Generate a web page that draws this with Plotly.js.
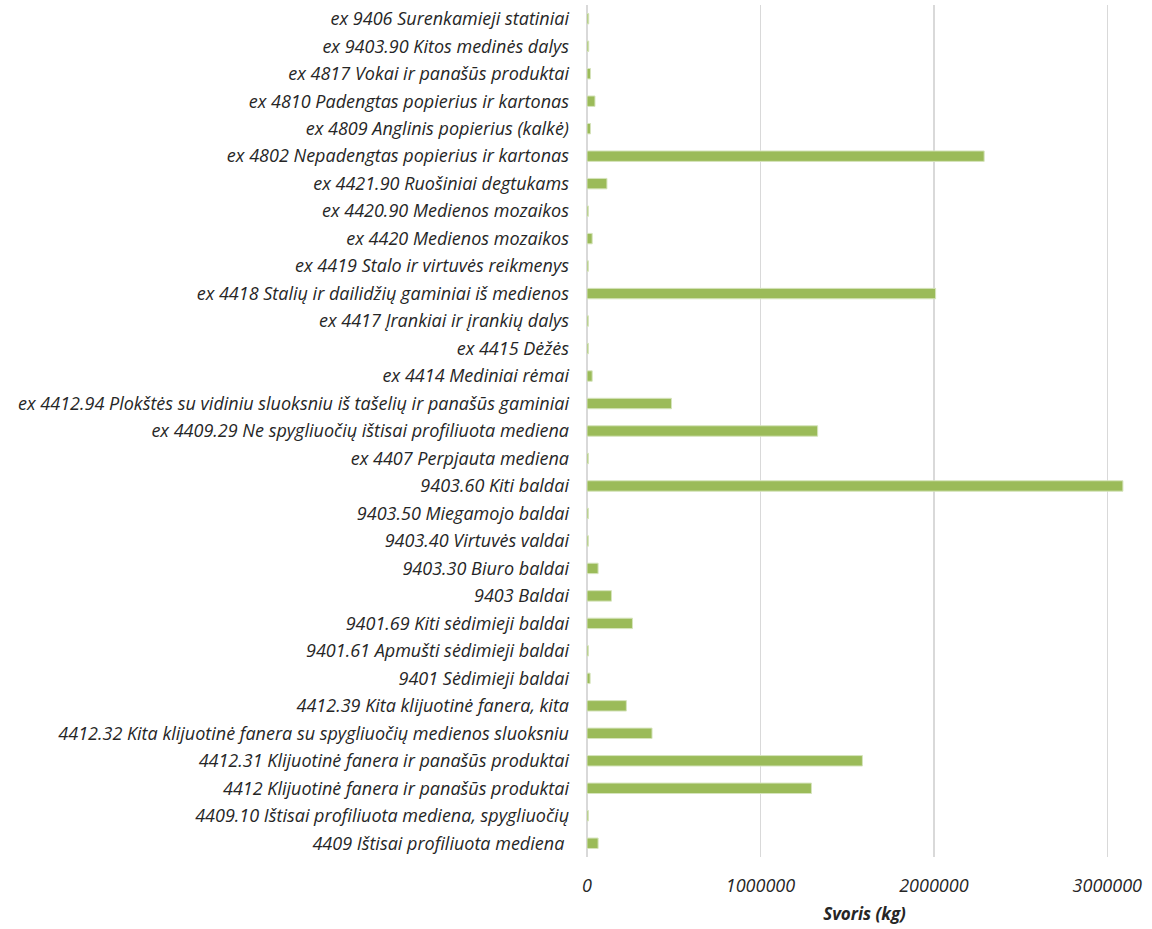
<!DOCTYPE html>
<html>
<head>
<meta charset="utf-8">
<script src="https://cdn.plot.ly/plotly-3.0.1.min.js"></script>
<style>html,body{margin:0;padding:0;background:#fff;}#chart{width:1152px;height:929px;}</style>
</head>
<body>
<div id="chart"></div>
<script>
// Categories, top to bottom as shown
var categories = [
  "ex 9406 Surenkamieji statiniai",
  "ex 9403.90 Kitos medinės dalys",
  "ex 4817 Vokai ir panašūs produktai",
  "ex 4810 Padengtas popierius ir kartonas",
  "ex 4809 Anglinis popierius (kalkė)",
  "ex 4802 Nepadengtas popierius ir kartonas",
  "ex 4421.90 Ruošiniai degtukams",
  "ex 4420.90 Medienos mozaikos",
  "ex 4420 Medienos mozaikos",
  "ex 4419 Stalo ir virtuvės reikmenys",
  "ex 4418 Stalių ir dailidžių gaminiai iš medienos",
  "ex 4417 Įrankiai ir įrankių dalys",
  "ex 4415 Dėžės",
  "ex 4414 Mediniai rėmai",
  "ex 4412.94 Plokštės su vidiniu sluoksniu iš tašelių ir panašūs gaminiai",
  "ex 4409.29 Ne spygliuočių ištisai profiliuota mediena",
  "ex 4407 Perpjauta mediena",
  "9403.60 Kiti baldai",
  "9403.50 Miegamojo baldai",
  "9403.40 Virtuvės valdai",
  "9403.30 Biuro baldai",
  "9403 Baldai",
  "9401.69 Kiti sėdimieji baldai",
  "9401.61 Apmušti sėdimieji baldai",
  "9401 Sėdimieji baldai",
  "4412.39 Kita klijuotinė fanera, kita",
  "4412.32 Kita klijuotinė fanera su spygliuočių medienos sluoksniu",
  "4412.31 Klijuotinė fanera ir panašūs produktai",
  "4412 Klijuotinė fanera ir panašūs produktai",
  "4409.10 Ištisai profiliuota mediena, spygliuočių",
  "4409 Ištisai profiliuota mediena\u00a0"
];
// Weight in kg
var weights = [
  10000, 10000, 20000, 46000, 20000, 2290000, 115000, 8000, 30000, 8000,
  2010000, 8000, 8000, 30000, 487000, 1330000, 8000, 3090000, 8000, 8000,
  64000, 141000, 262000, 8000, 18000, 227000, 375000, 1588000, 1294000, 8000,
  64000
];
var xTickValues = [0, 1000000, 2000000, 3000000];
var xTickLabels = ["0", "1000000", "2000000", "3000000"];

var trace = {
  type: 'bar',
  orientation: 'h',
  y: categories,
  x: weights,
  marker: {color: '#9BBB59', line: {color: '#d6e4bd', width: 1}},
  hoverinfo: 'x+y'
};

var layout = {
  width: 1152,
  height: 929,
  margin: {l: 587, r: 10, t: 5, b: 72},
  paper_bgcolor: '#ffffff',
  plot_bgcolor: '#ffffff',
  bargap: 0.62,
  showlegend: false,
  font: {family: '"Open Sans", Lato, sans-serif', color: '#262626'},
  xaxis: {
    range: [0, 3200000],
    tickvals: xTickValues,
    ticktext: xTickLabels,
    showgrid: true,
    gridcolor: '#d9d9d9',
    gridwidth: 1.5,
    zeroline: true,
    zerolinecolor: '#d9d9d9',
    zerolinewidth: 2,
    showline: false,
    ticks: '',
    tickfont: {size: 18, style: 'italic', color: '#262626'},
    ticklabelstandoff: 16,
    title: {text: 'Svoris (kg)', font: {size: 17, style: 'italic', weight: 'bold', color: '#262626'}, standoff: 12},
    fixedrange: true
  },
  yaxis: {
    type: 'category',
    autorange: 'reversed',
    showgrid: false,
    zeroline: false,
    showline: false,
    ticks: '',
    tickfont: {size: 18, style: 'italic', color: '#262626'},
    ticklabelstandoff: 17,
    automargin: false,
    fixedrange: true
  }
};

Plotly.newPlot('chart', [trace], layout, {displayModeBar: false, staticPlot: true});
</script>
</body>
</html>
